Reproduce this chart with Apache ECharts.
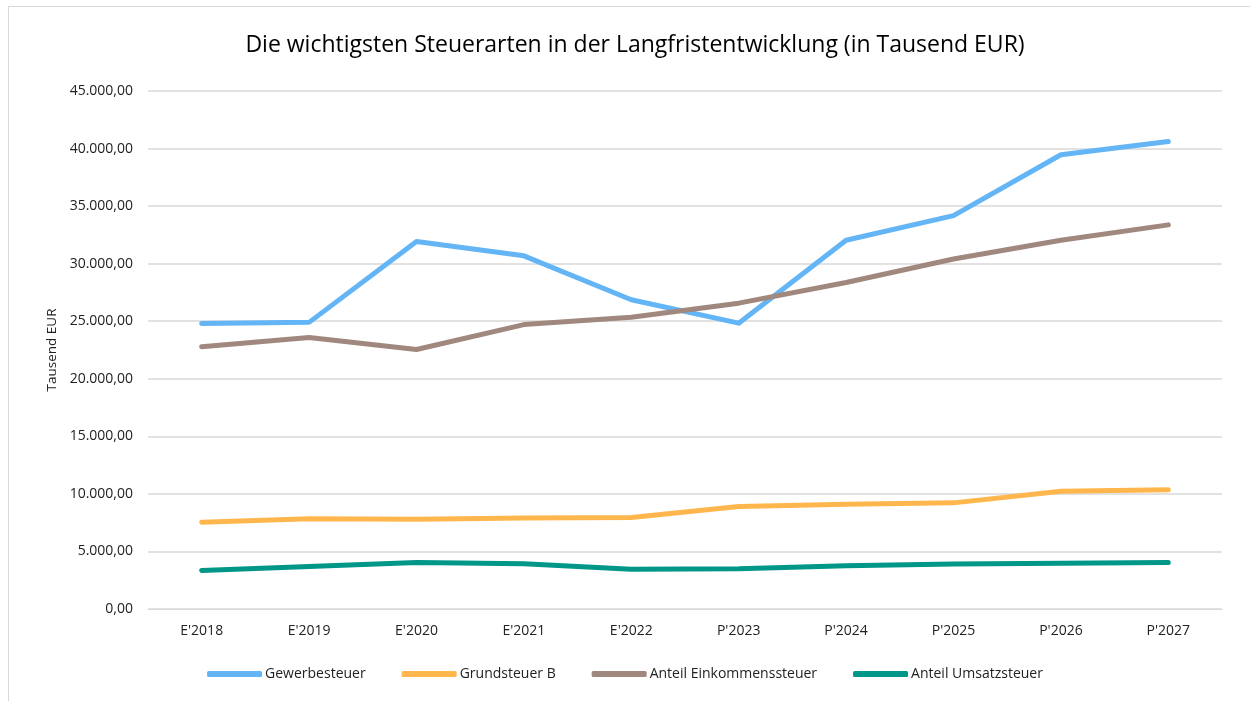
<!DOCTYPE html>
<html><head><meta charset="utf-8">
<script src="https://cdn.jsdelivr.net/npm/echarts@6/dist/echarts.min.js"></script>
<style>
html,body{margin:0;padding:0;background:#fff;}
#frame{position:absolute;left:8px;top:6px;width:1245px;height:700px;border-left:1px solid #d9d9d9;border-top:1px solid #d9d9d9;}
#c{position:absolute;left:0;top:0;width:1250px;height:701px;}
</style></head>
<body>
<div id="frame"></div>
<div id="c"></div>
<script>
const categories = ["E'2018","E'2019","E'2020","E'2021","E'2022","P'2023","P'2024","P'2025","P'2026","P'2027"];
const gewerbesteuer = [24800, 24900, 31930, 30680, 26870, 24830, 32030, 34170, 39460, 40610];
const grundsteuerB = [7540, 7830, 7800, 7910, 7940, 8900, 9100, 9220, 10230, 10350];
const einkommensteuer = [22775, 23580, 22540, 24710, 25350, 26570, 28360, 30410, 32030, 33370];
const umsatzsteuer = [3350, 3700, 4040, 3930, 3460, 3490, 3750, 3900, 3970, 4030];
const seriesNames = ["Gewerbesteuer","Grundsteuer B","Anteil Einkommenssteuer","Anteil Umsatzsteuer"];
const colors = ['#64b5f6','#ffb74d','#a1887f','#009688'];
const FONT = '"Open Sans", sans-serif';

function fmt(v){
  const s = Math.round(v).toString().replace(/\B(?=(\d{3})+(?!\d))/g,'.');
  return s + ',00';
}
const chart = echarts.init(document.getElementById('c'), null, {renderer:'canvas'});
const mk = (name, data, i) => ({
  name, type:'line', data, symbol:'none', smooth:false,
  lineStyle:{width:5, color:colors[i], cap:'round', join:'round'},
  itemStyle:{color:colors[i]}
});
chart.setOption({
  animation:false,
  title:{text:'Die wichtigsten Steuerarten in der Langfristentwicklung (in Tausend EUR)', left:630, textAlign:'center', top:29,
    textStyle:{fontFamily:FONT, fontSize:23, fontWeight:'normal', color:'#000'}},
  grid:{left:148, right:28, top:91, bottom:92, containLabel:false},
  legend:{bottom:15, left:'center', itemWidth:55, itemHeight:6, itemGap:36, icon:'roundRect',
    textStyle:{fontFamily:FONT, fontSize:14, color:'#222', padding:[0,0,0,-2]},
    data:seriesNames},
  xAxis:{type:'category', data:categories, boundaryGap:true,
    axisLine:{show:true, lineStyle:{color:'#d9d9d9', width:1}}, axisTick:{show:false},
    axisLabel:{fontFamily:FONT, fontSize:14, color:'#222', margin:15}},
  yAxis:{type:'value', min:0, max:45000, interval:5000,
    name:'Tausend EUR', nameLocation:'middle', nameGap:88, nameRotate:90,
    nameTextStyle:{fontFamily:FONT, fontSize:13.5, color:'#222'},
    axisLine:{show:false}, axisTick:{show:false},
    splitLine:{lineStyle:{color:'#d9d9d9', width:1.5}},
    axisLabel:{fontFamily:FONT, fontSize:14, color:'#222', margin:15, formatter:fmt}},
  series:[mk(seriesNames[0],gewerbesteuer,0), mk(seriesNames[1],grundsteuerB,1), mk(seriesNames[2],einkommensteuer,2), mk(seriesNames[3],umsatzsteuer,3)]
});
</script>
</body></html>
